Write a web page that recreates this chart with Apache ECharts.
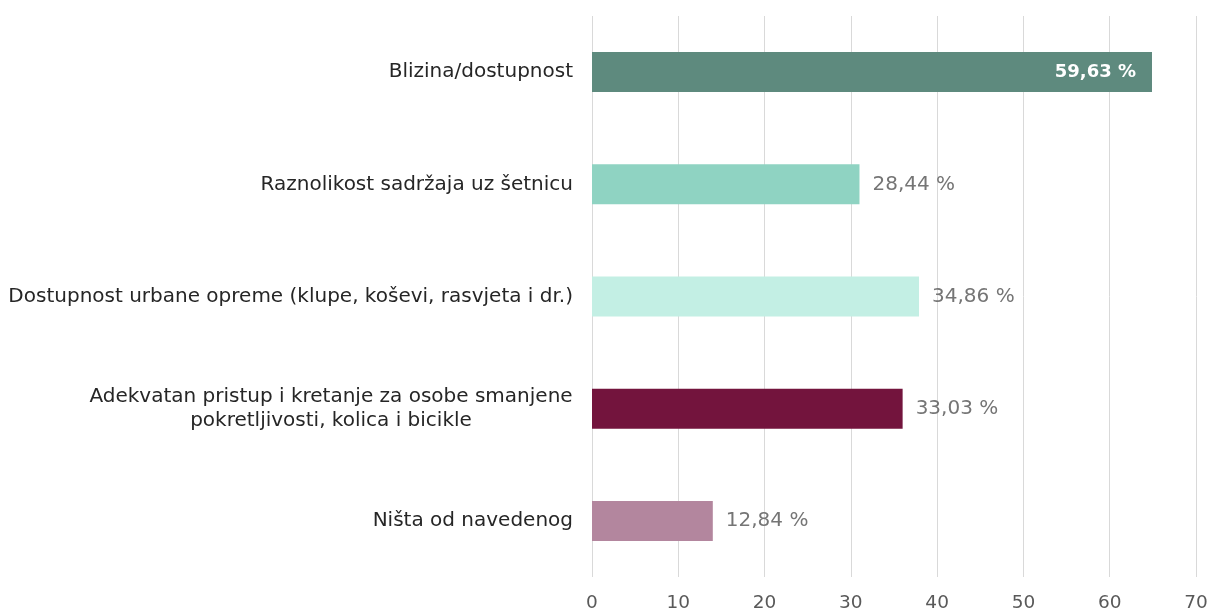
<!DOCTYPE html>
<html>
<head>
<meta charset="utf-8">
<script src="https://cdn.jsdelivr.net/npm/echarts@6/dist/echarts.min.js"></script>
<style>
  html, body { margin: 0; padding: 0; background: #fff; }
  #main { width: 1210px; height: 610px; }
</style>
</head>
<body>
<div id="main"></div>
<script>
// kategorije (odozgo prema dolje)
const categories = [
  'Blizina/dostupnost',
  'Raznolikost sadržaja uz šetnicu',
  'Dostupnost urbane opreme (klupe, koševi, rasvjeta i dr.)',
  'Adekvatan pristup i kretanje za osobe smanjene\npokretljivosti, kolica i bicikle',
  'Ništa od navedenog'
];
// duljine stupaca kako su nacrtane na osi
const barValues = [64.9, 31.0, 37.9, 36.0, 14.0];
// natpisi uz stupce
const valueLabels = ['59,63 %', '28,44 %', '34,86 %', '33,03 %', '12,84 %'];
const barColors = ['#5e8a7e', '#8fd3c2', '#c3efe4', '#73143d', '#b3869e'];
const xTicks = [0, 10, 20, 30, 40, 50, 60, 70];

const FONT = 'DejaVu Sans';
const SIZE = 20;

// širina prvog retka za centriranje dvoretnog natpisa
const ctx = document.createElement('canvas').getContext('2d');
ctx.font = SIZE + 'px "' + FONT + '"';
const lineWidth = (s) => Math.ceil(ctx.measureText(s).width);

const myChart = echarts.init(document.getElementById('main'));

myChart.setOption({
  animation: false,
  grid: { left: 592, right: 14, top: 16, bottom: 33, outerBoundsMode: 'none', containLabel: false },
  xAxis: {
    type: 'value',
    min: xTicks[0],
    max: xTicks[xTicks.length - 1],
    interval: 10,
    axisLine: { show: false },
    axisTick: { show: false },
    splitLine: { lineStyle: { color: '#d9d9d9', width: 1 } },
    axisLabel: { color: '#595959', fontFamily: FONT, fontSize: 18.5, margin: 17 }
  },
  yAxis: {
    type: 'category',
    inverse: true,
    data: categories,
    axisLine: { show: false },
    axisTick: { show: false },
    axisLabel: {
      margin: 19,
      color: '#262626',
      fontFamily: FONT,
      fontSize: SIZE,
      lineHeight: 24,
      formatter: (v) => {
        if (v.indexOf('\n') < 0) return v;
        return v.split('\n').map((p) => '{c|' + p + '}').join('\n');
      },
      rich: {
        c: {
          width: lineWidth(categories[3].split('\n')[0]),
          align: 'center',
          fontFamily: FONT,
          fontSize: SIZE,
          lineHeight: 24,
          color: '#262626'
        }
      }
    }
  },
  series: [
    {
      type: 'bar',
      barWidth: 40,
      data: barValues.map((v, i) => ({
        value: v,
        itemStyle: { color: barColors[i] },
        label: i === 0
          ? { show: true, position: 'insideRight', distance: 16, color: '#ffffff', fontWeight: 'bold', fontSize: 18 }
          : { show: true, position: 'right', distance: 13, color: '#757575' }
      })),
      label: {
        show: true,
        fontFamily: FONT,
        fontSize: SIZE,
        formatter: (p) => valueLabels[p.dataIndex]
      }
    }
  ]
});
</script>
</body>
</html>
